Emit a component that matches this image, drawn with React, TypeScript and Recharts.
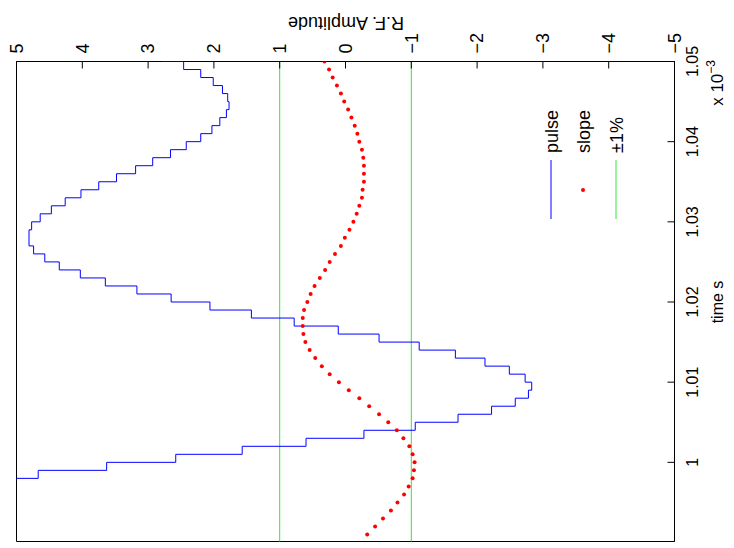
import { ReferenceArea, ReferenceLine, Scatter, ScatterChart, XAxis, YAxis } from "recharts";

// time in units of 1e-3 s, one sample per microsecond
const TIME_STEP = 0.001;

// pulse: staircase held over each sample interval, starting at pulseStart
const pulseStart = 0.997;
const pulse = [
  5.6, 4.67, 3.63, 2.58, 1.57, 0.6, -0.28, -1.06, -1.71, -2.22, -2.58, -2.78,
  -2.83, -2.73, -2.49, -2.12, -1.67, -1.12, -0.51, 0.11, 0.78, 1.43, 2.06,
  2.65, 3.17, 3.65, 4.03, 4.35, 4.57, 4.74, 4.81, 4.81, 4.77, 4.64, 4.47, 4.26,
  4.02, 3.75, 3.48, 3.19, 2.93, 2.66, 2.42, 2.2, 2.03, 1.91, 1.81, 1.77, 1.79,
  1.87, 2.01, 2.2, 2.46, 2.78,
];

// slope: one dot per sample, starting at slopeStart
const slopeStart = 0.991;
const slope = [
  -0.33, -0.45, -0.57, -0.69, -0.79, -0.89, -0.96, -1.02, -1.04, -1.05, -1.02,
  -0.97, -0.88, -0.78, -0.65, -0.51, -0.36, -0.21, -0.05, 0.1, 0.24, 0.36,
  0.46, 0.545, 0.61, 0.64, 0.65, 0.65, 0.63, 0.58, 0.53, 0.47, 0.39, 0.31,
  0.24, 0.16, 0.07, 0.01, -0.06, -0.12, -0.17, -0.21, -0.25, -0.26, -0.28,
  -0.28, -0.28, -0.27, -0.25, -0.21, -0.18, -0.14, -0.09, -0.04, 0.02, 0.07,
  0.13, 0.195, 0.25, 0.32,
];

const limits = [1, -1];
const timeDomain = [0.990125, 1.05];
const ampDomain = [-5, 5];
const timeTicks = [1, 1.01, 1.02, 1.03, 1.04, 1.05];
const ampTicks = [-5, -4, -3, -2, -1, 0, 1, 2, 3, 4, 5];

const BLUE = "#0000ff";
const RED = "#ff0000";
const GREEN = "#33e633";
const FONT = "'Liberation Sans', Arial, Helvetica, sans-serif";

const pulseData = pulse.flatMap((a, i) => {
  const t0 = pulseStart + i * TIME_STEP;
  return [
    { t: t0, a },
    { t: t0 + TIME_STEP, a },
  ];
});
const slopeData = slope.map((a, i) => ({ t: slopeStart + i * TIME_STEP, a }));

const fmtAmp = (v: number) => (v < 0 ? `\u2212${-v}` : `${v}`);
const blank = () => "";

const Dot = (p: any) => <circle cx={p.cx} cy={p.cy} r={2} fill={RED} />;
const NoDot = () => <g />;

// chart is drawn the normal way (time across, amplitude up) and turned a quarter left
const W = 548;
const H = 734;

export default function App() {
  return (
    <div
      style={{
        position: "absolute",
        left: 0,
        top: 0,
        width: 734,
        height: 548,
        overflow: "hidden",
        background: "#fff",
        fontFamily: FONT,
      }}
    >
      <div
        style={{
          position: "absolute",
          left: 0,
          top: 0,
          width: W,
          height: H,
          transformOrigin: "0 0",
          transform: `translate(0px, ${W}px) rotate(-90deg)`,
        }}
      >
        <ScatterChart
          width={W}
          height={H}
          margin={{ top: 16.5, left: 6.5, right: 11.5, bottom: 19.5 }}
          style={{ fontFamily: FONT }}
        >
          <XAxis
            xAxisId="time"
            dataKey="t"
            type="number"
            domain={timeDomain}
            allowDataOverflow
            ticks={timeTicks}
            tickFormatter={(v: number) => String(v)}
            tickSize={-7}
            tickMargin={19}
            height={40}
            stroke="#000"
            tick={{ fill: "#000", fontSize: 16 }}
          />
          <XAxis
            xAxisId="timeTop"
            orientation="top"
            dataKey="t"
            type="number"
            domain={timeDomain}
            allowDataOverflow
            ticks={timeTicks}
            tickFormatter={blank}
            tickSize={-7}
            height={0}
            stroke="#000"
          />
          <YAxis
            yAxisId="amp"
            orientation="right"
            dataKey="a"
            type="number"
            domain={ampDomain}
            allowDataOverflow
            ticks={ampTicks}
            tickFormatter={fmtAmp}
            tickSize={-7}
            tickMargin={15}
            width={50}
            stroke="#000"
            tick={{ fill: "#000", fontSize: 18 }}
          />
          <YAxis
            yAxisId="ampLeft"
            orientation="left"
            dataKey="a"
            type="number"
            domain={ampDomain}
            allowDataOverflow
            ticks={ampTicks}
            tickFormatter={blank}
            tickSize={-7}
            width={0}
            stroke="#000"
          />
          {limits.map((v) => (
            <ReferenceLine
              key={v}
              xAxisId="time"
              yAxisId="amp"
              y={v}
              stroke={GREEN}
              strokeWidth={1}
            />
          ))}
          <Scatter
            name="pulse"
            xAxisId="time"
            yAxisId="amp"
            data={pulseData}
            fill={BLUE}
            line={{ stroke: BLUE, strokeWidth: 1 }}
            shape={NoDot}
            isAnimationActive={false}
          />
          <Scatter
            name="slope"
            xAxisId="time"
            yAxisId="amp"
            data={slopeData}
            fill={RED}
            shape={Dot}
            isAnimationActive={false}
          />
          <ReferenceArea
            xAxisId="time"
            yAxisId="amp"
            x1={timeDomain[0]}
            x2={timeDomain[1]}
            y1={ampDomain[0]}
            y2={ampDomain[1]}
            fill="none"
            fillOpacity={0}
            stroke="#000"
            strokeWidth={1}
            strokeOpacity={1}
          />
        </ScatterChart>
        <svg
          width={W}
          height={H}
          style={{ position: "absolute", left: 0, top: 0, pointerEvents: "none", fontFamily: FONT }}
        >
          <text x={246} y={723} fontSize={16} textAnchor="middle" fill="#000">
            time s
          </text>
          <text x={488} y={723} fontSize={17} textAnchor="end" fill="#000">
            x 10
            <tspan fontSize={12} dy={-8}>
              {"\u22123"}
            </tspan>
          </text>
          <text
            x={531}
            y={346}
            fontSize={18}
            textAnchor="middle"
            fill="#000"
            transform="rotate(-90 531 346)"
          >
            R.F. Amplitude
          </text>
          <line x1={329} x2={388} y1={551} y2={551} stroke={BLUE} />
          <circle cx={358} cy={583} r={2} fill={RED} />
          <line x1={329} x2={388} y1={616} y2={616} stroke={GREEN} />
          <text x={395} y={558} fontSize={18} fill="#000">pulse</text>
          <text x={395} y={590} fontSize={18} fill="#000">slope</text>
          <text x={395} y={623} fontSize={18} fill="#000">±1%</text>
        </svg>
      </div>
    </div>
  );
}
